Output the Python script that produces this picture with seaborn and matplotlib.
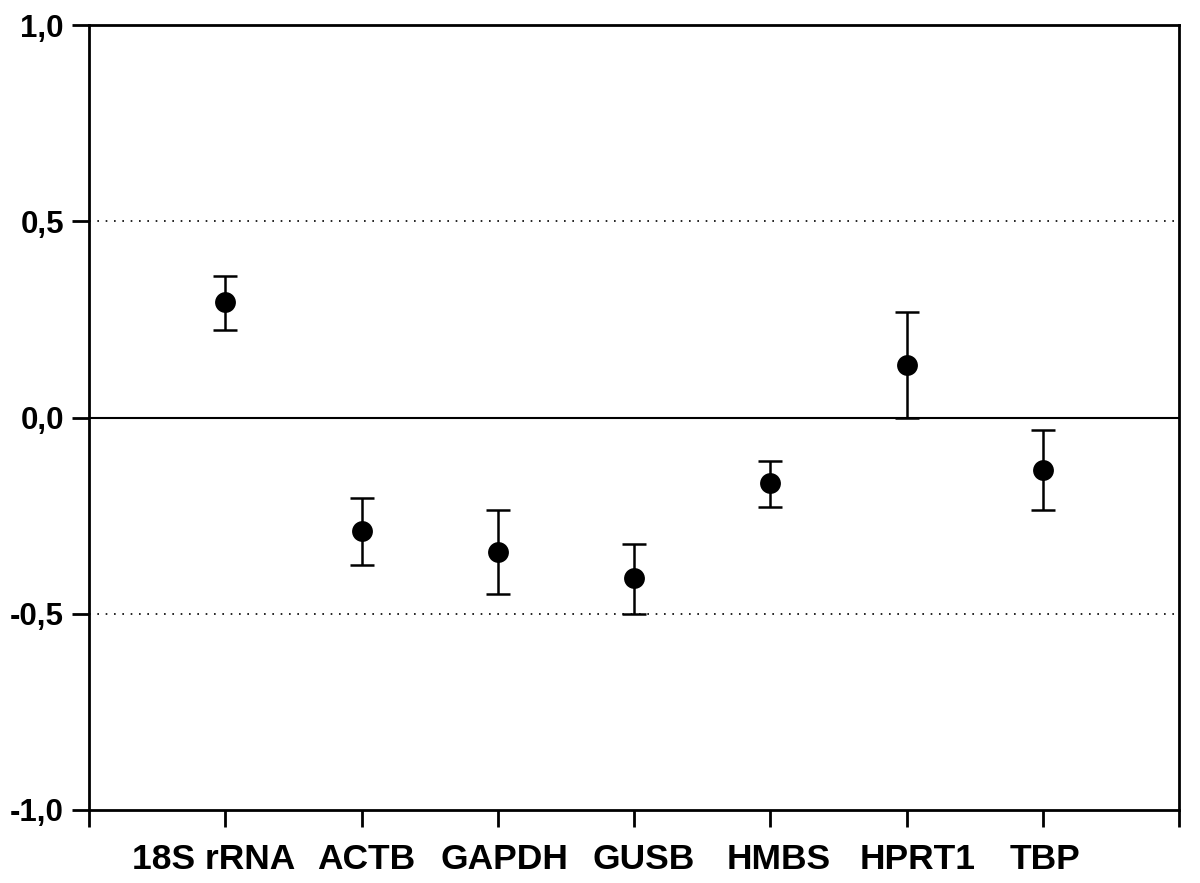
import matplotlib
matplotlib.use("Agg")
import matplotlib.pyplot as plt
import matplotlib.transforms as mtransforms
import seaborn as sns
import pandas as pd

# reference genes and their mean values with error bar ends
genes = ['18S rRNA', 'ACTB', 'GAPDH', 'GUSB', 'HMBS', 'HPRT1', 'TBP']
means = [0.293, -0.288, -0.343, -0.410, -0.168, 0.135, -0.133]
err_low = [0.224, -0.375, -0.450, -0.500, -0.229, 0.000, -0.235]
err_high = [0.360, -0.206, -0.236, -0.322, -0.110, 0.268, -0.032]
y_ticks = [-1.0, -0.5, 0.0, 0.5, 1.0]
y_tick_labels = ['-1,0', '-0,5', '0,0', '0,5', '1,0']

df = pd.DataFrame({'gene': genes, 'mean': means, 'low': err_low, 'high': err_high})

sns.set_style("white")
plt.rcParams['font.family'] = ['Liberation Sans', 'DejaVu Sans']
plt.rcParams['text.color'] = 'black'
plt.rcParams['xtick.color'] = 'black'
plt.rcParams['ytick.color'] = 'black'

fig = plt.figure(figsize=(12, 8.83), dpi=100)
ax = fig.add_axes([89 / 1200, 1 - 810 / 883, 1090 / 1200, 785 / 883])

# reference lines
ax.axhline(0, color='black', lw=1.5, zorder=1)
for yv in (0.5, -0.5):
    ax.axhline(yv, color='black', lw=1.2, ls=(0, (1, 4)), zorder=1)

# error bars
ax.errorbar(df['gene'], df['mean'],
            yerr=[df['mean'] - df['low'], df['high'] - df['mean']],
            fmt='none', ecolor='black', elinewidth=1.8, capsize=8.5, capthick=1.8, zorder=2)

sns.scatterplot(data=df, x='gene', y='mean', ax=ax, color='black', s=225,
                edgecolor='black', linewidth=0, zorder=3, legend=False)

ax.set_xlim(-1, 7)
ax.set_ylim(-1.0, 1.0)
ax.set_xticks(range(-1, 8))
ax.set_xticklabels([''] + genes + [''], fontsize=25.5, fontweight='bold', color='black')
ax.set_yticks(y_ticks)
ax.set_yticklabels(y_tick_labels, fontsize=22.5, fontweight='bold', color='black')
ax.set_xlabel('')
ax.set_ylabel('')

ax.tick_params(axis='both', direction='out', length=12, width=2, color='black',
               bottom=True, left=True)
ax.tick_params(axis='x', pad=12)
ax.tick_params(axis='y', pad=6)
for sp in ax.spines.values():
    sp.set_color('black')
    sp.set_linewidth(2)

# the original labels sit a little off their ticks
nudges = [-12, 5, 7, 10, 8, 11, 2]
for lab, dx in zip(ax.get_xticklabels()[1:-1], nudges):
    lab.set_transform(lab.get_transform() +
                      mtransforms.ScaledTranslation(dx / 100, 0, fig.dpi_scale_trans))

fig.savefig('out.png', dpi=100)
